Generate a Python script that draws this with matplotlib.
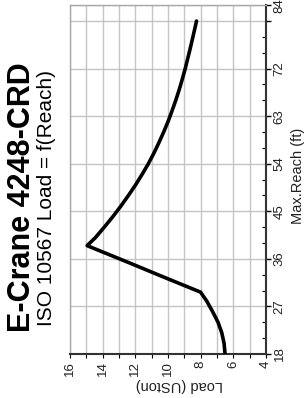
import matplotlib

matplotlib.use("Agg")
import matplotlib.pyplot as plt
from matplotlib.ticker import FixedLocator, MultipleLocator

plt.rcParams["font.family"] = ["Liberation Sans", "DejaVu Sans"]

reach_ft = [18, 20, 22, 24, 26, 28, 29.7, 32.6, 35.2, 37.3, 38.5, 40, 42, 44, 46, 48,
            50, 52, 54, 56, 58, 60, 62, 64, 66, 68, 70, 72, 74, 76, 78, 80, 81]
load_uston = [6.5, 6.56, 6.7, 6.93, 7.26, 7.62, 8.0, 10.3, 12.33, 14.0, 14.95, 14.45,
              13.9, 13.37, 12.88, 12.42, 11.98, 11.58, 11.2, 10.86, 10.55, 10.26, 9.99,
              9.75, 9.52, 9.31, 9.12, 8.94, 8.78, 8.62, 8.47, 8.32, 8.25]

reach_ticks = [18, 27, 36, 45, 54, 63, 72, 81, 84]
reach_labels = ["18", "27", "36", "45", "54", "63", "72", "", "84"]
load_ticks = [16, 14, 12, 10, 8, 6, 4]

title = "E-Crane 4248-CRD"
subtitle = "ISO 10567 Load = f(Reach)"

fig = plt.figure(figsize=(3.07, 3.98), dpi=100)
ax = fig.add_axes([0.228, 0.1106, 0.638, 0.8764])

grid_c = "#c4c4c4"
ax.plot(load_uston, reach_ft, color="black", lw=2.6, solid_capstyle="round",
        solid_joinstyle="round", zorder=3)

ax.set_xlim(16, 4)
ax.set_ylim(18, 84)

# reach axis sits on the right (chart is turned a quarter turn)
ax.yaxis.tick_right()
ax.yaxis.set_label_position("right")
ax.yaxis.set_major_locator(FixedLocator(reach_ticks))
ax.set_yticklabels(reach_labels)
ax.yaxis.set_minor_locator(MultipleLocator(3))
ax.xaxis.set_major_locator(FixedLocator(load_ticks))
ax.xaxis.set_minor_locator(MultipleLocator(1))

ax.tick_params(axis="y", which="major", direction="out", length=3.5, width=1,
               labelsize=9.5, labelcolor="#222222", labelrotation=90, pad=2)
ax.tick_params(axis="y", which="minor", direction="in", length=3, width=0.8)
ax.tick_params(axis="x", which="both", direction="out", length=3, width=0.8,
               labelsize=9.5, labelcolor="#222222", labelrotation=90, pad=2)
for lab in ax.get_yticklabels():
    lab.set_va("center")

ax.grid(True, which="major", axis="y", color=grid_c, lw=1)
ax.grid(True, which="both", axis="x", color=grid_c, lw=1)
ax.set_axisbelow(True)

for side in ("top", "left"):
    ax.spines[side].set_color("#a8a8a8")
    ax.spines[side].set_linewidth(1)
for side in ("right", "bottom"):
    ax.spines[side].set_color("#333333")
    ax.spines[side].set_linewidth(1.5)

fig.text(0.583, 0.033, "Load (USton)", rotation=180, ha="center", va="center",
         fontsize=10.5, color="#222222")
fig.text(0.97, 0.558, "Max.Reach (ft)", rotation=90, ha="center", va="center",
         fontsize=10.5, color="#222222")

fig.text(0.072, 0.505, title, rotation=90, ha="center", va="center",
         fontsize=22, fontweight="bold")
fig.text(0.152, 0.503, subtitle, rotation=90, ha="center", va="center", fontsize=15)

fig.savefig("out.png", dpi=100)
